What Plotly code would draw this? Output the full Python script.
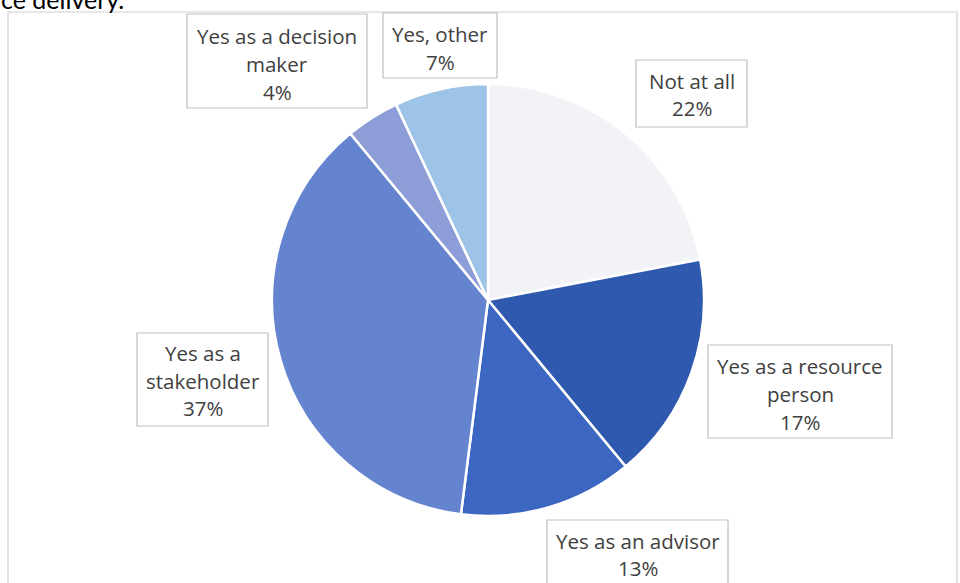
import plotly.graph_objects as go

# Survey responses: share of respondents by type of involvement
categories = [
    "Not at all",
    "Yes as a resource person",
    "Yes as an advisor",
    "Yes as a stakeholder",
    "Yes as a decision maker",
    "Yes, other",
]
values = [22, 17, 13, 37, 4, 7]
# how each category name is wrapped inside its callout box
wrapped = [
    ["Not at all"],
    ["Yes as a resource", "person"],
    ["Yes as an advisor"],
    ["Yes as a", "stakeholder"],
    ["Yes as a decision", "maker"],
    ["Yes, other"],
]
colors = ["#F2F3F6", "#2E59AE", "#3B67C2", "#6584CF", "#8C9DD8", "#9DC3E6"]

W, H = 960, 583


def px(x):
    return x / W


def py(y):
    return 1 - y / H


# callout boxes in pixels: (left, top, right, bottom, first line centre, line step)
boxes = [
    (636, 60, 747, 127, 81, 27),
    (708, 345, 892, 438, 366, 28),
    (547, 520, 728, 600, 541, 27),
    (137, 333, 268, 426, 353, 27.5),
    (187, 14, 367, 108, 36, 28),
    (383, 13, 497, 78, 34, 28),
]

cx, cy, r = 488, 300, 216

fig = go.Figure(
    go.Pie(
        labels=categories,
        values=values,
        sort=False,
        direction="clockwise",
        rotation=0,
        marker=dict(colors=colors, line=dict(color="white", width=2.5)),
        textinfo="none",
        hoverinfo="label+percent",
        showlegend=False,
        domain=dict(
            x=[px(cx - r), px(cx + r)],
            y=[py(cy + r), py(cy - r)],
        ),
    )
)

shapes = [
    # chart frame
    dict(type="rect", xref="paper", yref="paper",
         x0=px(8), x1=px(957), y0=py(600), y1=py(12),
         line=dict(color="#D0D0D0", width=1.2), fillcolor="rgba(0,0,0,0)",
         layer="below"),
]
annotations = []
for name_lines, v, (l, t, rr, b, y0, step) in zip(wrapped, values, boxes):
    shapes.append(dict(type="rect", xref="paper", yref="paper",
                       x0=px(l), x1=px(rr), y0=py(b), y1=py(t),
                       line=dict(color="#BFBFBF", width=1.2),
                       fillcolor="white", layer="above"))
    lines = name_lines + [f"{v}%"]
    for i, txt in enumerate(lines):
        annotations.append(dict(
            text=txt, xref="paper", yref="paper",
            x=px((l + rr) / 2), y=py(y0 + i * step),
            xanchor="center", yanchor="middle", showarrow=False,
            font=dict(family="Open Sans", size=20.5, color="#404040"),
        ))

# tail of the sentence above the chart
annotations.append(dict(
    text="ce delivery.", xref="paper", yref="paper",
    x=px(-1), y=py(16), xanchor="left", yanchor="bottom", showarrow=False,
    font=dict(family="Lato", size=25, color="#000000"),
))

fig.update_layout(
    width=W, height=H,
    margin=dict(l=0, r=0, t=0, b=0),
    paper_bgcolor="white",
    plot_bgcolor="white",
    shapes=shapes,
    annotations=annotations,
)

fig.write_html("out.html")
